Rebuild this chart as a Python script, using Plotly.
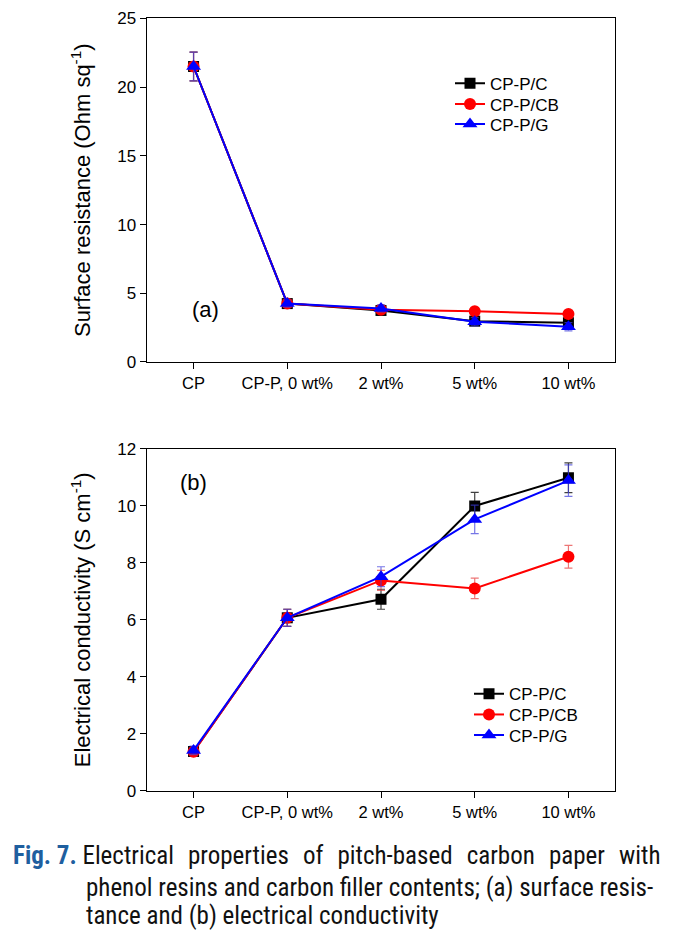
import plotly.graph_objects as go

categories = ["CP", "CP-P, 0 wt%", "2 wt%", "5 wt%", "10 wt%"]
series_names = ["CP-P/C", "CP-P/CB", "CP-P/G"]

# (a) Surface resistance (Ohm sq^-1)
res_C = [21.5, 4.25, 3.75, 2.97, 2.85]
res_CB = [21.5, 4.25, 3.80, 3.70, 3.50]
res_G = [21.5, 4.25, 3.90, 2.93, 2.57]
res_err_C = [1.05, 0.25, 0.25, 0.3, 0.25]
res_err_CB = [1.05, 0.25, 0.25, 0.2, 0.2]
res_err_G = [1.05, 0.25, 0.25, 0.3, 0.3]

# (b) Electrical conductivity (S cm^-1)
cond_C = [1.38, 6.07, 6.72, 9.99, 10.98]
cond_CB = [1.37, 6.07, 7.38, 7.10, 8.21]
cond_G = [1.42, 6.07, 7.51, 9.52, 10.88]
cond_err_C = [0.15, 0.3, 0.35, 0.48, 0.52]
cond_err_CB = [0.15, 0.3, 0.35, 0.36, 0.4]
cond_err_G = [0.15, 0.3, 0.35, 0.5, 0.55]

colors = ["#000000", "#ff0000", "#0000ff"]
err_colors = ["rgba(0,0,0,0.75)", "rgba(230,60,60,0.7)", "rgba(60,60,220,0.7)"]
symbols = ["square", "circle", "triangle-up"]
msizes = [11, 12, 13]

# page geometry (empirical mapping of figure pixels to the captured page)
W, H = 666, 937
OX = 8
OYC, SY = 15.9, 0.98


def px(v):
    return (v - OX) / W


def py(v):
    return 1 - ((v - OYC) / SY) / H


x = list(range(len(categories)))
fig = go.Figure()

res_vals = [res_C, res_CB, res_G]
res_errs = [res_err_C, res_err_CB, res_err_G]
cond_vals = [cond_C, cond_CB, cond_G]
cond_errs = [cond_err_C, cond_err_CB, cond_err_G]

top_leg_rows = [82.7, 103.3, 123.5]
bot_leg_rows = [693.3, 714, 734.5]

for i in range(3):
    fig.add_trace(go.Scatter(
        x=x, y=res_vals[i], name=series_names[i], mode="lines+markers",
        line=dict(color=colors[i], width=2),
        marker=dict(symbol=symbols[i], size=msizes[i], color=colors[i]),
        error_y=dict(type="data", array=res_errs[i], color=err_colors[i], thickness=1.2, width=4),
        xaxis="x", yaxis="y", legend="legend" if i == 0 else "legend%d" % (i + 1)))
for i in range(3):
    fig.add_trace(go.Scatter(
        x=x, y=cond_vals[i], name=series_names[i], mode="lines+markers",
        line=dict(color=colors[i], width=2),
        marker=dict(symbol=symbols[i], size=msizes[i], color=colors[i]),
        error_y=dict(type="data", array=cond_errs[i], color=err_colors[i], thickness=1.2, width=4),
        xaxis="x2", yaxis="y2", legend="legend%d" % (i + 4)))

font = "Liberation Sans, Arial, sans-serif"

axis_common = dict(showline=True, linecolor="black", linewidth=1.3, mirror=True,
                   ticks="outside", ticklen=6, tickwidth=1.3, tickcolor="black",
                   showgrid=False, zeroline=False)

legends = {}
for i in range(3):
    key = "legend" if i == 0 else "legend%d" % (i + 1)
    legends[key] = dict(x=px(450), y=py(top_leg_rows[i]), xanchor="left", yanchor="middle",
                        font=dict(family=font, size=17, color="black"), bgcolor="rgba(0,0,0,0)")
for i in range(3):
    legends["legend%d" % (i + 4)] = dict(x=px(469), y=py(bot_leg_rows[i]), xanchor="left", yanchor="middle",
                                         font=dict(family=font, size=17, color="black"), bgcolor="rgba(0,0,0,0)")

fig.update_layout(
    width=W, height=H, margin=dict(l=0, r=0, t=0, b=0),
    paper_bgcolor="white", plot_bgcolor="white",
    font=dict(family=font, color="black"),
    xaxis=dict(domain=[px(146.7), px(615.3)], range=[-0.5, 4.5], tickvals=x, ticktext=categories,
               anchor="y", tickfont=dict(family=font, size=16.5, color="black"), **axis_common),
    yaxis=dict(domain=[py(361), py(17.3)], range=[0, 25], dtick=5, anchor="x",
               tickfont=dict(family=font, size=17, color="black"),
               title=dict(text="Surface resistance (Ohm sq<sup>-1</sup>)", font=dict(family=font, size=22), standoff=20),
               **axis_common),
    xaxis2=dict(domain=[px(146.7), px(615.3)], range=[-0.5, 4.5], tickvals=x, ticktext=categories,
                anchor="y2", tickfont=dict(family=font, size=16.5, color="black"), **axis_common),
    yaxis2=dict(domain=[py(790), py(447.7)], range=[0, 12], dtick=2, anchor="x2",
                tickfont=dict(family=font, size=17, color="black"),
                title=dict(text="Electrical conductivity (S cm<sup>-1</sup>)", font=dict(family=font, size=22), standoff=20),
                **axis_common),
    showlegend=True,
    **legends,
)

fig.add_annotation(text="(a)", x=px(205), y=py(308), xref="paper", yref="paper",
                   showarrow=False, font=dict(family=font, size=22), xanchor="center", yanchor="middle")
fig.add_annotation(text="(b)", x=px(193), y=py(482), xref="paper", yref="paper",
                   showarrow=False, font=dict(family=font, size=22), xanchor="center", yanchor="middle")

cap_font = "Liberation Sans Narrow, Roboto Condensed, Noto Sans, sans-serif"
cap_size = 25
sp = "&nbsp;&#8202; "
caption_lines = [
    "<b><span style='color:#1f5f9f'>Fig. 7.</span></b> "
    + sp.join(["Electrical", "properties", "of", "pitch-based", "carbon", "paper", "with"]),
    "phenol resins and carbon filler contents; (a) surface resis-",
    "tance and (b) electrical conductivity",
]
caption_x = [11.7, 85, 85]
caption_y = [855, 886.5, 915]
for t, cx, cy in zip(caption_lines, caption_x, caption_y):
    fig.add_annotation(text=t, x=px(cx), y=py(cy), xref="paper", yref="paper",
                       showarrow=False, font=dict(family=cap_font, size=cap_size, color="#111111"),
                       xanchor="left", yanchor="middle", align="left", borderpad=0)

fig.write_html("out.html")
